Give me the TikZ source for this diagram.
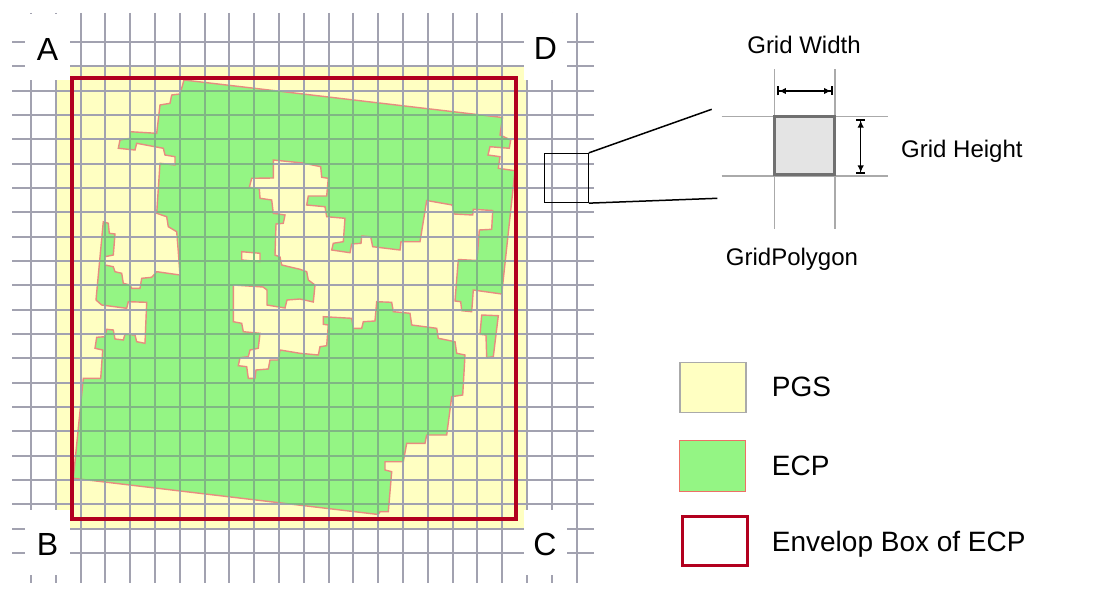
\documentclass[tikz,border=0pt]{standalone}
\usepackage{fontspec}
\setmainfont{Liberation Sans}
\usetikzlibrary{arrows.meta}
\definecolor{pgsyellow}{RGB}{255,255,194}
\definecolor{pgsedge}{RGB}{255,255,100}
\definecolor{ecpgreen}{RGB}{148,245,132}
\definecolor{ecpedge}{RGB}{232,140,128}
\definecolor{envred}{RGB}{178,0,30}
\definecolor{gridgray}{RGB}{162,162,176}
\definecolor{gridgreen}{RGB}{128,182,132}
\definecolor{cellfill}{RGB}{228,228,228}
\definecolor{celledge}{RGB}{112,112,112}
\definecolor{insetgray}{RGB}{170,170,170}
\newcommand{\ecpouter}{(184,80) -- (502.5,117.5) -- (500,135) -- (510.7,140) -- (509.3,148.3) -- (490,146.7) -- (488,155) -- (500,156.7) -- (498.3,168.3) -- (515,170.7) -- (501.7,294) -- (473.3,290) -- (471.7,311.7) -- (461.7,310.7) -- (460.7,301.7) -- (455,301) -- (458.3,259.5) -- (477,260.5) -- (479.3,230) -- (491.7,229.3) -- (492.7,210.5) -- (473.3,209.3) -- (472.7,215) -- (454,214) -- (452.3,205) -- (426.7,200.5) -- (420,241.7) -- (401,241.7) -- (400,250) -- (372.7,246.7) -- (370.7,236.7) -- (361.7,236) -- (361,243.3) -- (351.7,244) -- (350,252.7) -- (331.7,250) -- (333.3,243.3) -- (343.3,241.7) -- (345,218.3) -- (326.7,216.7) -- (325,206.7) -- (306.7,205) -- (308.3,196) -- (326.7,196) -- (328.3,178.3) -- (321.7,177.3) -- (320.7,166.7) -- (303,163) -- (273.3,160) -- (273.3,178) -- (251.7,178.3) -- (249.3,187.3) -- (259.3,188.7) -- (260,198.3) -- (271.7,200) -- (273.3,213.3) -- (285,215) -- (283.3,223.3) -- (276,224) -- (275,255) -- (280,257) -- (281.7,265) -- (300,269.3) -- (306.7,271.7) -- (308.3,280) -- (315,285) -- (313.3,302) -- (300,299) -- (287,300) -- (285,308) -- (267,305) -- (267,290) -- (263,287) -- (233.3,285) -- (233.3,321.7) -- (241.7,323.3) -- (243.3,331.7) -- (260,333.3) -- (258.3,348.3) -- (250,350) -- (248.3,356.7) -- (240,357.7) -- (238.3,365.7) -- (246.7,366.7) -- (248.3,378.3) -- (255,378.3) -- (256,370) -- (268.3,369) -- (270,360) -- (278.3,360) -- (280,350) -- (300,353.3) -- (318.3,355) -- (320,346.7) -- (326.7,345.7) -- (328.3,325) -- (323.3,324.3) -- (323.3,316.7) -- (351.7,318.3) -- (353.3,328.3) -- (361.7,328.3) -- (363.3,321.7) -- (375,321) -- (376.7,301.7) -- (391.7,302.3) -- (393.3,311.7) -- (410,313.3) -- (411.7,325) -- (436.7,328.3) -- (438.3,338.3) -- (455,341.7) -- (456.7,353.3) -- (465,355) -- (462.7,395) -- (451.7,396.7) -- (446.7,435) -- (426.7,435) -- (425,443.3) -- (406.7,443.3) -- (403.3,461.7) -- (385,461.7) -- (385,470) -- (391.7,471.7) -- (388.3,511.7) -- (380,511.7) -- (378.3,514.5) -- (73.3,478.3) -- (83.3,378.3) -- (100.7,378.3) -- (102.7,350) -- (95,348.3) -- (96.7,337.3) -- (105,336.7) -- (106.7,329.3) -- (113.3,330) -- (115,339) -- (123.3,340) -- (125,334.3) -- (135,335) -- (136.7,341.7) -- (145,343.3) -- (146.7,302.3) -- (128.3,301.7) -- (126.7,308.3) -- (101.7,305) -- (96,300) -- (103.3,221.7) -- (108.3,223.3) -- (109.3,233.3) -- (115,234) -- (113.3,255) -- (105,256.7) -- (105,265) -- (113.3,266.7) -- (115,271.7) -- (121.7,273.3) -- (123.3,283.3) -- (130,285) -- (131.7,288.3) -- (140,288.3) -- (141.7,278.3) -- (151.7,277.3) -- (156.7,271.7) -- (180,275) -- (178.3,251.7) -- (176.7,231.7) -- (168.3,226.7) -- (166.7,216.7) -- (156.7,213.3) -- (160,163.3) -- (175,165) -- (175,156.7) -- (165,155) -- (163.3,148.3) -- (136.7,143.3) -- (135,150) -- (118.3,148.3) -- (120,140) -- (130,138.3) -- (130,131.7) -- (156.7,133.3) -- (160,105) -- (170,103.3) -- (171.7,95) -- (180,94) -- cycle}
\newcommand{\ecpisland}{(481.7,315) -- (498.3,315.7) -- (493.3,356.7) -- (486.7,357.7) -- (486,335) -- (480,334.3) -- cycle}
\begin{document}
\begin{tikzpicture}[x=1pt,y=-1pt,
  gridline/.style={draw=gridgray,line width=1.9pt},
  gridgreenline/.style={draw=gridgreen,line width=1.9pt},
  ecpshape/.style={fill=ecpgreen,draw=ecpedge,line width=1.4pt},
  pgshole/.style={fill=pgsyellow,draw=ecpedge,line width=1.4pt},
  labelbox/.style={fill=white,draw=none,inner sep=0pt},
  cornertext/.style={inner sep=0pt,font=\fontsize{32}{38}\selectfont},
  dimtext/.style={inner sep=0pt,font=\fontsize{24}{28}\selectfont},
  legendtext/.style={inner sep=0pt,anchor=base west,font=\fontsize{28}{33}\selectfont},
  zoomline/.style={draw=black,line width=1.5pt},
  insetgrid/.style={draw=insetgray,line width=1.5pt},
  dimline/.style={draw=black,line width=1.5pt,
    {Bar[width=9pt,line width=1.6pt]Latex[length=7pt,width=6.5pt]}-{Latex[length=7pt,width=6.5pt]Bar[width=9pt,line width=1.6pt]}}
]
\useasboundingbox (0,0) rectangle (1101,602);
\fill[white] (0,0) rectangle (1101,602);
% PGS area
\path[fill=pgsyellow,draw=pgsedge,line width=2pt] (55.8,66.3) rectangle (527,528.7);
% ECP
\path[ecpshape] \ecpouter;
\path[pgshole] (241.7,251.7) -- (260,253.3) -- (260,261.7) -- (241.7,260) -- cycle;
\path[ecpshape] \ecpisland;
% grid
\foreach \k in {0,...,22} \draw[gridline] ({31+24.8*\k},13) -- ({31+24.8*\k},583);
\foreach \k in {0,...,21} \draw[gridline] (12,{42+24.33*\k}) -- (594,{42+24.33*\k});
\begin{scope}
\clip \ecpouter \ecpisland;
\foreach \k in {0,...,22} \draw[gridgreenline] ({31+24.8*\k},13) -- ({31+24.8*\k},583);
\foreach \k in {0,...,21} \draw[gridgreenline] (12,{42+24.33*\k}) -- (594,{42+24.33*\k});
\end{scope}
% envelope box
\draw[envred,line width=4pt] (72,78) rectangle (516,519);
% corner labels
\node[labelbox,minimum width=45pt,minimum height=66pt] (boxA) at (47.5,47) {};
\node[labelbox,minimum width=43pt,minimum height=67pt] (boxD) at (545.5,46.5) {};
\node[labelbox,minimum width=45pt,minimum height=65pt] (boxB) at (47.5,542.5) {};
\node[labelbox,minimum width=43pt,minimum height=65pt] (boxC) at (545.5,542.5) {};
\node[cornertext,anchor=base] (labA) at (47.5,61) {A};
\node[cornertext,anchor=base] (labD) at (545.5,60) {D};
\node[cornertext,anchor=base] (labB) at (47.5,555) {B};
\node[cornertext,anchor=base] (labC) at (545,555) {C};
% zoom window
\node[draw=black,line width=1.3pt,minimum width=44pt,minimum height=49pt,inner sep=0pt] (zoomrect) at (566.2,178) {};
\coordinate (zoomtop) at (711.7,109.3);
\coordinate (zoombot) at (717.3,198.3);
\draw[zoomline] (zoomrect.north east) -- (zoomtop);
\draw[zoomline] (zoomrect.south east) -- (zoombot);
% inset grid
\draw[insetgrid] (721.7,116.5) -- (888.3,116.5);
\draw[insetgrid] (721.7,176) -- (888.3,176);
\draw[insetgrid] (774.3,69.3) -- (774.3,229.3);
\draw[insetgrid] (835,69.3) -- (835,229.3);
\node[fill=cellfill,draw=celledge,line width=3pt,minimum width=59.7pt,minimum height=58.3pt,inner sep=0pt] (cell) at (804.7,145.3) {};
\coordinate (wleft) at (777.3,91);
\coordinate (wright) at (832.7,91);
\coordinate (htop) at (860.7,119);
\coordinate (hbot) at (860.7,174);
\draw[dimline] (wleft) -- (wright);
\draw[dimline] (htop) -- (hbot);
\node[dimtext,anchor=base] (gw) at (804,53.3) {Grid Width};
\node[dimtext,anchor=base west] (gh) at (901,157) {Grid Height};
\node[dimtext,anchor=base] (gp) at (792,265) {GridPolygon};
% legend
\node[fill=pgsyellow,draw=insetgray,line width=1.5pt,minimum width=66pt,minimum height=50pt,inner sep=0pt] (legpgs) at (713,387.7) {};
\node[fill=ecpgreen,draw=ecpedge!80!red,line width=1pt,minimum width=65.3pt,minimum height=50.7pt,inner sep=0pt] (legecp) at (712.5,465.8) {};
\node[fill=white,draw=envred,line width=3pt,minimum width=64.4pt,minimum height=49.6pt,inner sep=0pt] (legenv) at (715,541) {};
\node[legendtext] (tpgs) at (771.7,396.7) {PGS};
\node[legendtext] (tecp) at (771.7,475) {ECP};
\node[legendtext] (tenv) at (771.7,551.7) {Envelop Box of ECP};
\end{tikzpicture}
\end{document}
